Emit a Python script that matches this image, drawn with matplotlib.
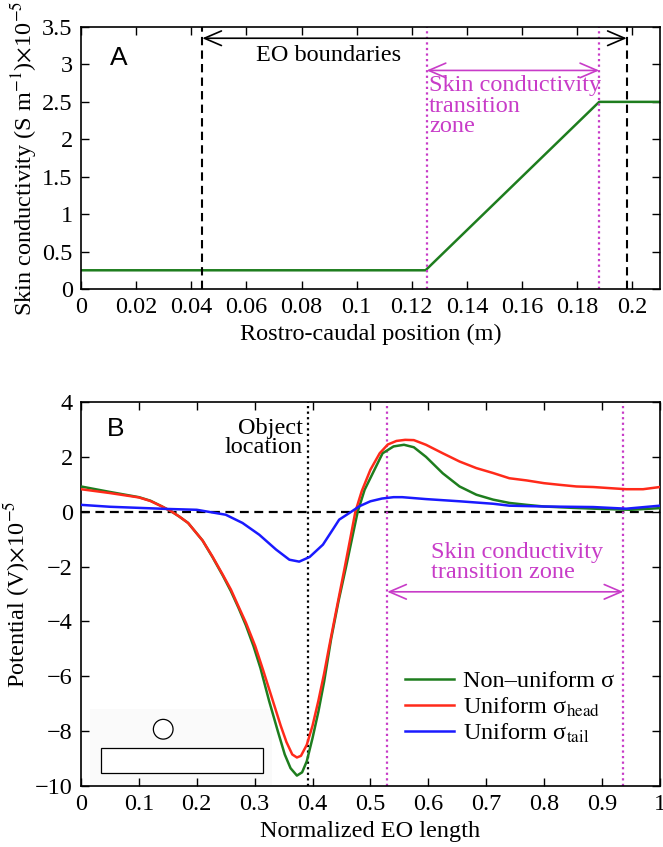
import numpy as np
import matplotlib
matplotlib.use("Agg")
import matplotlib.pyplot as plt
from matplotlib.patches import Rectangle, Ellipse

plt.rcParams['font.family'] = ['Liberation Serif', 'DejaVu Serif']
plt.rcParams['mathtext.fontset'] = 'stix'
FS = 17.5
plt.rcParams['font.size'] = FS

# panel A: skin conductivity along the body
pos_m = [0.0, 0.125, 0.188, 0.21]
sigma_skin = [0.25, 0.25, 2.5, 2.5]
eo_bounds = [0.044, 0.198]
trans_a = [0.1254, 0.188]

# panel B: potential along normalized EO length
x_nonuni = [0.0, 0.05, 0.10, 0.12, 0.14, 0.157, 0.17, 0.185, 0.21, 0.227, 0.245, 0.259, 0.272, 0.285,
            0.298, 0.31, 0.325, 0.34, 0.352, 0.362, 0.373, 0.382, 0.39, 0.40, 0.41, 0.42,
            0.432, 0.445, 0.458, 0.468, 0.478, 0.49, 0.507, 0.521, 0.54, 0.558, 0.575,
            0.596, 0.625, 0.654, 0.683, 0.712, 0.74, 0.77, 0.80, 0.85, 0.90, 0.95, 1.0]
v_nonuni = [0.92, 0.72, 0.53, 0.40, 0.19, 0.0, -0.18, -0.41, -1.05, -1.65, -2.33, -2.9, -3.5, -4.15,
            -4.9, -5.7, -6.9, -8.0, -8.85, -9.35, -9.62, -9.5, -9.1, -8.25, -7.3, -6.2,
            -4.65, -3.25, -2.0, -1.0, 0.0, 0.8, 1.53, 2.13, 2.38, 2.44, 2.35,
            2.0, 1.4, 0.92, 0.62, 0.44, 0.32, 0.25, 0.19, 0.14, 0.10, 0.07, 0.13]

x_head = [0.0, 0.05, 0.10, 0.12, 0.14, 0.157, 0.17, 0.185, 0.21, 0.227, 0.245, 0.259, 0.272, 0.285,
          0.301, 0.315, 0.33, 0.345, 0.355, 0.365, 0.373, 0.38, 0.39, 0.40, 0.41, 0.42,
          0.428, 0.44, 0.455, 0.465, 0.474, 0.485, 0.50, 0.516, 0.53, 0.545, 0.56, 0.575,
          0.596, 0.625, 0.654, 0.683, 0.712, 0.74, 0.77, 0.80, 0.827, 0.856, 0.885,
          0.913, 0.942, 0.971, 1.0]
v_head = [0.82, 0.68, 0.52, 0.39, 0.19, 0.0, -0.18, -0.41, -1.05, -1.63, -2.3, -2.84, -3.45, -4.05,
          -4.9, -5.8, -6.8, -7.8, -8.4, -8.85, -8.96, -8.9, -8.5, -7.8, -6.9, -5.9,
          -5.0, -3.7, -2.1, -1.0, 0.0, 0.75, 1.53, 2.13, 2.45, 2.58, 2.62, 2.61,
          2.44, 2.13, 1.83, 1.59, 1.41, 1.22, 1.14, 1.04, 0.98, 0.92, 0.90,
          0.86, 0.82, 0.82, 0.90]

x_tail = [0.0, 0.05, 0.10, 0.15, 0.20, 0.25, 0.279, 0.308, 0.337, 0.36, 0.377, 0.395,
          0.418, 0.435, 0.446, 0.467, 0.481, 0.50, 0.52, 0.54, 0.555, 0.596, 0.654,
          0.712, 0.74, 0.80, 0.885, 0.942, 1.0]
v_tail = [0.25, 0.18, 0.14, 0.10, 0.07, -0.11, -0.41, -0.84, -1.38, -1.75, -1.82, -1.65,
          -1.2, -0.65, -0.29, 0.0, 0.2, 0.38, 0.48, 0.53, 0.53, 0.46, 0.38,
          0.29, 0.22, 0.19, 0.17, 0.11, 0.22]

object_x = 0.393
trans_b = [0.529, 0.937]

green = '#1e7d1e'
red = '#ff2a1a'
blue = '#1a1aff'
magenta = '#c83cc8'

fig = plt.figure(figsize=(6.63, 8.47), dpi=100)


def style_axes(ax):
    ax.tick_params(direction='in', top=True, right=True, length=6, width=1, labelsize=FS, pad=6)
    for s in ax.spines.values():
        s.set_linewidth(1.2)


arrow_style = '<->,head_length=0.7,head_width=0.3'

# ---- A ----
ax1 = fig.add_axes([0.1222, 0.6588, 0.873, 0.3093])
ax1.plot(pos_m, sigma_skin, color=green, lw=1.8)
for xv in eo_bounds:
    ax1.axvline(xv, color='k', ls=(0, (4, 2.5)), lw=1.5)
for xv in trans_a:
    ax1.axvline(xv, color=magenta, ls=(0, (1, 1.5)), lw=1.6)
ax1.annotate('', xy=(eo_bounds[0], 3.35), xytext=(eo_bounds[1], 3.35),
             arrowprops=dict(arrowstyle=arrow_style, color='k', lw=1.2, shrinkA=0, shrinkB=0))
ax1.text(0.0898, 3.12, 'EO boundaries', ha='center', va='center')
ax1.annotate('', xy=(trans_a[0], 2.92), xytext=(trans_a[1], 2.92),
             arrowprops=dict(arrowstyle=arrow_style, color=magenta, lw=1.2, shrinkA=0, shrinkB=0))
ax1.text(0.1262, 2.86, 'Skin conductivity\ntransition\nzone', ha='left', va='top',
         color=magenta, linespacing=0.98)
ax1.text(0.0105, 3.08, 'A', family='Liberation Sans', fontsize=19, ha='left', va='center')
ax1.set_xlim(0, 0.21)
ax1.set_ylim(0, 3.5)
ax1.set_xticks(np.arange(0, 0.201, 0.02))
ax1.set_xticklabels(['0', '0.02', '0.04', '0.06', '0.08', '0.1', '0.12', '0.14', '0.16', '0.18', '0.2'])
ax1.set_yticks(np.arange(0, 3.51, 0.5))
ax1.set_yticklabels(['0', '0.5', '1', '1.5', '2', '2.5', '3', '3.5'])
ax1.set_xlabel('Rostro-caudal position (m)', labelpad=4)
ax1.set_ylabel(r'Skin conductivity (S m$^{-1}$)$\times$10$^{-5}$', labelpad=2)
style_axes(ax1)

# ---- B ----
ax2 = fig.add_axes([0.1222, 0.072, 0.873, 0.4534])
ax2.add_patch(Rectangle((0.015, -9.95), 0.315, 2.75, facecolor='#fafafa', edgecolor='none', zorder=0))
ax2.axhline(0, color='k', ls=(0, (4, 2.5)), lw=1.6, zorder=1)
ax2.axvline(object_x, color='k', ls=(0, (1, 1.5)), lw=1.6, zorder=1)
for xv in trans_b:
    ax2.axvline(xv, color=magenta, ls=(0, (1, 1.5)), lw=1.6, zorder=1)
ax2.plot(x_nonuni, v_nonuni, color=green, lw=1.8, label='Non\u2013uniform \u03c3', zorder=3)
ax2.plot(x_head, v_head, color=red, lw=1.8, label='Uniform \u03c3$_{\\mathrm{head}}$', zorder=3)
ax2.plot(x_tail, v_tail, color=blue, lw=1.8, label='Uniform \u03c3$_{\\mathrm{tail}}$', zorder=3)

ax2.annotate('', xy=(trans_b[0], -2.92), xytext=(trans_b[1], -2.92),
             arrowprops=dict(arrowstyle=arrow_style, color=magenta, lw=1.2, shrinkA=0, shrinkB=0))
ax2.text(0.604, -1.85, 'Skin conductivity\ntransition zone', ha='left', va='center',
         color=magenta, linespacing=0.95)
ax2.text(0.383, 2.7, 'Object\nlocation', ha='right', va='center', linespacing=0.88)
ax2.text(0.045, 3.0, 'B', family='Liberation Sans', fontsize=19, ha='left', va='center')

# object sketch: fish body and sphere
ax2.add_patch(Rectangle((0.034, -9.51), 0.281, 0.88, facecolor='white', edgecolor='k', lw=0.9, zorder=2))
ax2.add_patch(Ellipse((0.142, -7.93), 0.034, 0.72, facecolor='white', edgecolor='k', lw=0.9, zorder=2))

ax2.legend(loc='upper left', bbox_to_anchor=(0.56, 0.301), frameon=False, fontsize=FS,
           handlelength=2.0, handletextpad=0.36, labelspacing=0.12, borderaxespad=0, borderpad=0)
ax2.set_xlim(0, 1)
ax2.set_ylim(-10, 4)
ax2.set_xticks(np.arange(0, 1.01, 0.1))
ax2.set_xticklabels(['0', '0.1', '0.2', '0.3', '0.4', '0.5', '0.6', '0.7', '0.8', '0.9', '1'])
ax2.set_yticks(np.arange(-10, 4.1, 2))
ax2.set_xlabel('Normalized EO length', labelpad=4)
ax2.set_ylabel(r'Potential (V)$\times$10$^{-5}$', labelpad=2)
style_axes(ax2)

fig.savefig('out.png', dpi=100)
